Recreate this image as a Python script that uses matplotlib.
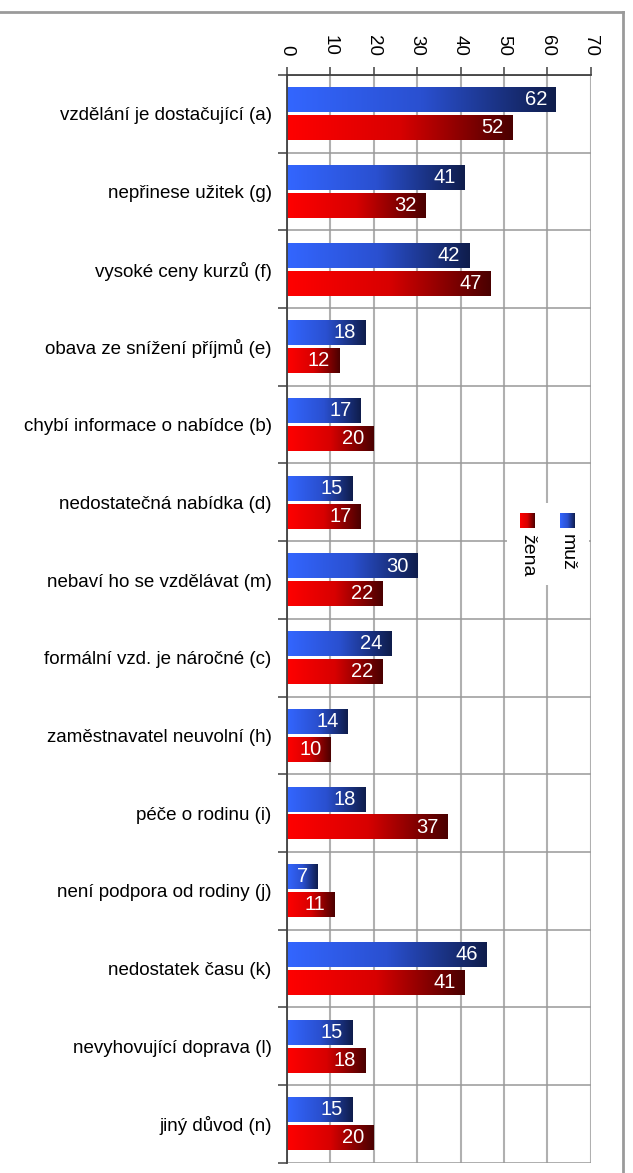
import matplotlib
matplotlib.use('Agg')
import matplotlib.pyplot as plt
import numpy as np
from matplotlib.colors import LinearSegmentedColormap
from matplotlib.lines import Line2D

plt.rcParams['font.family'] = ['Liberation Sans', 'DejaVu Sans']

# data
categories = ['vzdělání je dostačující (a)', 'nepřinese užitek (g)', 'vysoké ceny kurzů (f)',
              'obava ze snížení příjmů (e)', 'chybí informace o nabídce (b)',
              'nedostatečná nabídka (d)', 'nebaví ho se vzdělávat (m)',
              'formální vzd. je náročné (c)', 'zaměstnavatel neuvolní (h)',
              'péče o rodinu (i)', 'není podpora od rodiny (j)', 'nedostatek času (k)',
              'nevyhovující doprava (l)', 'jiný důvod (n)']
muz = [62, 41, 42, 18, 17, 15, 30, 24, 14, 18, 7, 46, 15, 15]
zena = [52, 32, 47, 12, 20, 17, 22, 22, 10, 37, 11, 41, 18, 20]
series_names = ['muž', 'žena']
x_ticks = [0, 10, 20, 30, 40, 50, 60, 70]

W, H = 633, 1173
cmap_blue = LinearSegmentedColormap.from_list('b', ['#3366ff', '#2a50d0', '#0f1d4c'])
cmap_red = LinearSegmentedColormap.from_list('r', ['#ff0000', '#d80000', '#4a0000'])
grad = np.linspace(0, 1, 256).reshape(1, -1)

fig = plt.figure(figsize=(W / 100, H / 100), dpi=100)
ax = fig.add_axes([287 / W, 1 - 1162.7 / H, (590.7 - 287) / W, (1162.7 - 75) / H])

n = len(categories)
ypos = np.arange(n)
h = 0.32
off = 0.18

for series, cmap, sign in [(muz, cmap_blue, -1), (zena, cmap_red, 1)]:
    for y, v in zip(ypos, series):
        yc = y + sign * off
        ax.imshow(grad, extent=[0, v, yc + h / 2, yc - h / 2], cmap=cmap,
                  aspect='auto', interpolation='bilinear', zorder=3)
        ax.annotate(f'{v}', xy=(v, yc), xytext=(-6.5, 0), textcoords='offset points',
                    ha='right', va='center', color='white', fontsize=14.5, zorder=4)

ax.set_xlim(0, 70)
ax.set_ylim(n - 0.5, -0.5)
ax.set_aspect('auto')

ax.xaxis.tick_top()
ax.set_xticks(x_ticks)
ax.set_xticklabels([str(t) for t in x_ticks])
ax.tick_params(axis='x', which='major', direction='out', length=6, width=1.1,
               color='#404040', pad=8, labelsize=13.5, labelrotation=-90)

ax.set_yticks(ypos)
ax.set_yticklabels(categories)
ax.set_yticks(np.arange(n + 1) - 0.5, minor=True)
ax.tick_params(axis='y', which='major', length=0, pad=11, labelsize=13.5)
ax.tick_params(axis='y', which='minor', direction='out', length=6.5, width=1.1, color='#404040')

ax.grid(True, axis='x', which='major', color='#b0b0b0', lw=1.5, zorder=1)
ax.grid(True, axis='y', which='minor', color='#999999', lw=1.1, zorder=1)
ax.set_axisbelow(True)

for s in ['right', 'bottom']:
    ax.spines[s].set_visible(False)
for s in ['left', 'top']:
    ax.spines[s].set_color('#404040')
    ax.spines[s].set_linewidth(1.3)
    ax.spines[s].set_zorder(5)

# rotated legend
lax = fig.add_axes([507 / W, 1 - 585 / H, 82 / W, 82 / H], zorder=6)
lax.axis('off')
lax.add_patch(plt.Rectangle((507, 503), 82, 82, color='white', zorder=0))
for name, cmap, xc in [(series_names[0], cmap_blue, 567.5), (series_names[1], cmap_red, 527.5)]:
    lax.imshow(grad, extent=[xc - 7.5, xc + 7.5, 528, 513], cmap=cmap, aspect='auto', zorder=2)
    lax.text(xc, 534, name, rotation=-90, ha='center', va='top', fontsize=14)
lax.set_xlim(507, 589)
lax.set_ylim(585, 503)

# frame lines of the screenshot
fig.add_artist(Line2D([0, 623 / W], [1 - 11.5 / H] * 2, transform=fig.transFigure,
                      color='#9a9a9a', lw=2))
fig.add_artist(Line2D([623 / W] * 2, [1 - 11.5 / H, 0], transform=fig.transFigure,
                      color='#9a9a9a', lw=2))

fig.savefig('out.png', dpi=100)
